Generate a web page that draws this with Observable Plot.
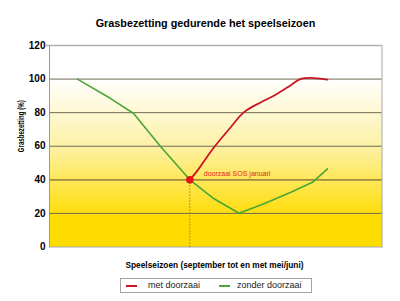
<!DOCTYPE html>
<html>
<head>
<meta charset="utf-8">
<script src="https://cdn.jsdelivr.net/npm/d3@7"></script>
<script src="https://cdn.jsdelivr.net/npm/@observablehq/plot@0.6"></script>
<style>
  body { margin:0; width:400px; height:301px; position:relative; background:#fff; overflow:hidden;
         font-family:"Liberation Sans", Arial, sans-serif; color:#111; }
  #chart { position:absolute; left:0; top:0; }
  #title { position:absolute; top:16.5px; left:0; width:411px; text-align:center; font-size:10.8px;
           font-weight:bold; line-height:12px; color:#000; }
  #xlabel { position:absolute; top:259.5px; left:0; width:429px; text-align:center; font-size:8.3px;
            font-weight:bold; line-height:11px; color:#000; }
  #legend { position:absolute; left:120px; top:278px; width:190px; height:12.5px; border:1px solid #a4a4a4; }
  .item { position:absolute; top:0; height:12.5px; font-size:9px; line-height:12.5px; color:#222; }
  .sw { position:absolute; top:6px; width:11px; height:2px; }
</style>
</head>
<body>
<div id="chart"></div>
<div id="title"></div>
<div id="xlabel"></div>
<div id="legend"></div>
<script>
// ---- data ----
const chartTitle = "Grasbezetting gedurende het speelseizoen";
const xLabel = "Speelseizoen (september tot en met mei/juni)";
const yLabel = "Grasbezetting (%)";
const seriesNames = ["met doorzaai", "zonder doorzaai"];
const seriesColors = ["#cc1424", "#4aa636"];
const yTicks = [0, 20, 40, 60, 80, 100, 120];

// season position (0 = start september, 100 = end mei/juni), occupation %
const metX = [42.2, 44.5, 47.0, 49.5, 54.5, 58.5, 63.6, 67.6, 71.6, 75.6, 78.6, 83.6];
const metY = [40, 45.5, 52.6, 59.4, 71.3, 80.3, 86.2, 90.2, 95.1, 100.1, 100.7, 99.7];
const zonderX = [8.4, 18.4, 25.3, 33.4, 42.2, 49.5, 57.0, 64.5, 72.6, 79.1, 83.6];
const zonderY = [100, 88.4, 79.5, 59.8, 40, 28.7, 20.1, 25.7, 32.6, 38.5, 46.5];
const doorzaaiX = [42.2];
const doorzaaiY = [40];
const annotation = ["doorzaai SOS januari"];

// ---- build tables ----
const met = metX.map((x, i) => ({x, y: metY[i]}));
const zonder = zonderX.map((x, i) => ({x, y: zonderY[i]}));
const sos = doorzaaiX.map((x, i) => ({x, y: doorzaaiY[i], label: annotation[i]}));

document.getElementById("title").textContent = chartTitle;
document.getElementById("xlabel").textContent = xLabel;

const gradient = () => {
  const defs = d3.create("svg:defs");
  const g = defs.append("linearGradient").attr("id", "bg")
    .attr("x1", 0).attr("y1", 0).attr("x2", 0).attr("y2", 1);
  g.append("stop").attr("offset", "0.16").attr("stop-color", "#ffffff");
  g.append("stop").attr("offset", "0.5").attr("stop-color", "#fdf1a6");
  g.append("stop").attr("offset", "0.86").attr("stop-color", "#ffdc00");
  g.append("stop").attr("offset", "1").attr("stop-color", "#ffdc00");
  return defs.node();
};

const plot = Plot.plot({
  width: 400,
  height: 255,
  marginTop: 45,
  marginBottom: 8.5,
  marginLeft: 49,
  marginRight: 18.5,
  style: {fontFamily: "Liberation Sans, Arial, sans-serif", color: "#000", background: "transparent"},
  x: {domain: [0, 100], axis: null},
  y: {domain: [0, 120], axis: null},
  marks: [
    gradient,
    Plot.frame({fill: "url(#bg)", stroke: "#a8a8a8", strokeWidth: 1}),
    Plot.ruleY(yTicks.filter(d => d > 0 && d < 120 && d !== 40), {stroke: "#6f6a55", strokeWidth: 1}),
    Plot.ruleY([40], {stroke: "#a08a3c", strokeWidth: 1.8}),
    Plot.ruleY([120], {stroke: "#b2b2b2", strokeWidth: 1.5, x1: -1, x2: 100}),
    Plot.ruleX([0], {stroke: "#9a9a9a", strokeWidth: 1}),
    Plot.ruleX(sos, {x: "x", y1: 0, y2: "y", stroke: "#6e5420", strokeWidth: 1, strokeDasharray: "1,2"}),
    Plot.line(zonder, {x: "x", y: "y", stroke: seriesColors[1], strokeWidth: 1.6, curve: "linear"}),
    Plot.line(met, {x: "x", y: "y", stroke: seriesColors[0], strokeWidth: 1.8, curve: "catmull-rom"}),
    Plot.dot(sos, {x: "x", y: "y", r: 3.8, fill: "#e3141c", stroke: "none"}),
    Plot.text(sos, {x: "x", y: "y", text: "label", textAnchor: "start", lineAnchor: "bottom",
      dx: 14, dy: -4.3, fill: "#e0261c", fontSize: 7}),
    Plot.axisY({ticks: yTicks, tickSize: 0, tickPadding: 4, fontWeight: "bold", fontSize: 10,
      label: null, tickFormat: d => d}),
    Plot.text([yLabel], {frameAnchor: "left", rotate: -90, dx: -29, dy: 6, fontWeight: "bold",
      fontSize: 9.5, text: d => d})
  ]
});
document.getElementById("chart").appendChild(plot);

// compress the condensed-looking y axis label to the reference length
d3.select(plot).selectAll("text").filter(function() { return this.textContent === yLabel; })
  .attr("textLength", 52).attr("lengthAdjust", "spacingAndGlyphs");

// ---- legend ----
const legend = document.getElementById("legend");
const legendPos = [{sw: 5, tx: 27}, {sw: 98, tx: 116}];
seriesNames.forEach((name, i) => {
  const sw = document.createElement("div");
  sw.className = "sw";
  sw.style.left = legendPos[i].sw + "px";
  sw.style.background = seriesColors[i];
  legend.appendChild(sw);
  const t = document.createElement("div");
  t.className = "item";
  t.style.left = legendPos[i].tx + "px";
  t.textContent = name;
  legend.appendChild(t);
});
</script>
</body>
</html>
